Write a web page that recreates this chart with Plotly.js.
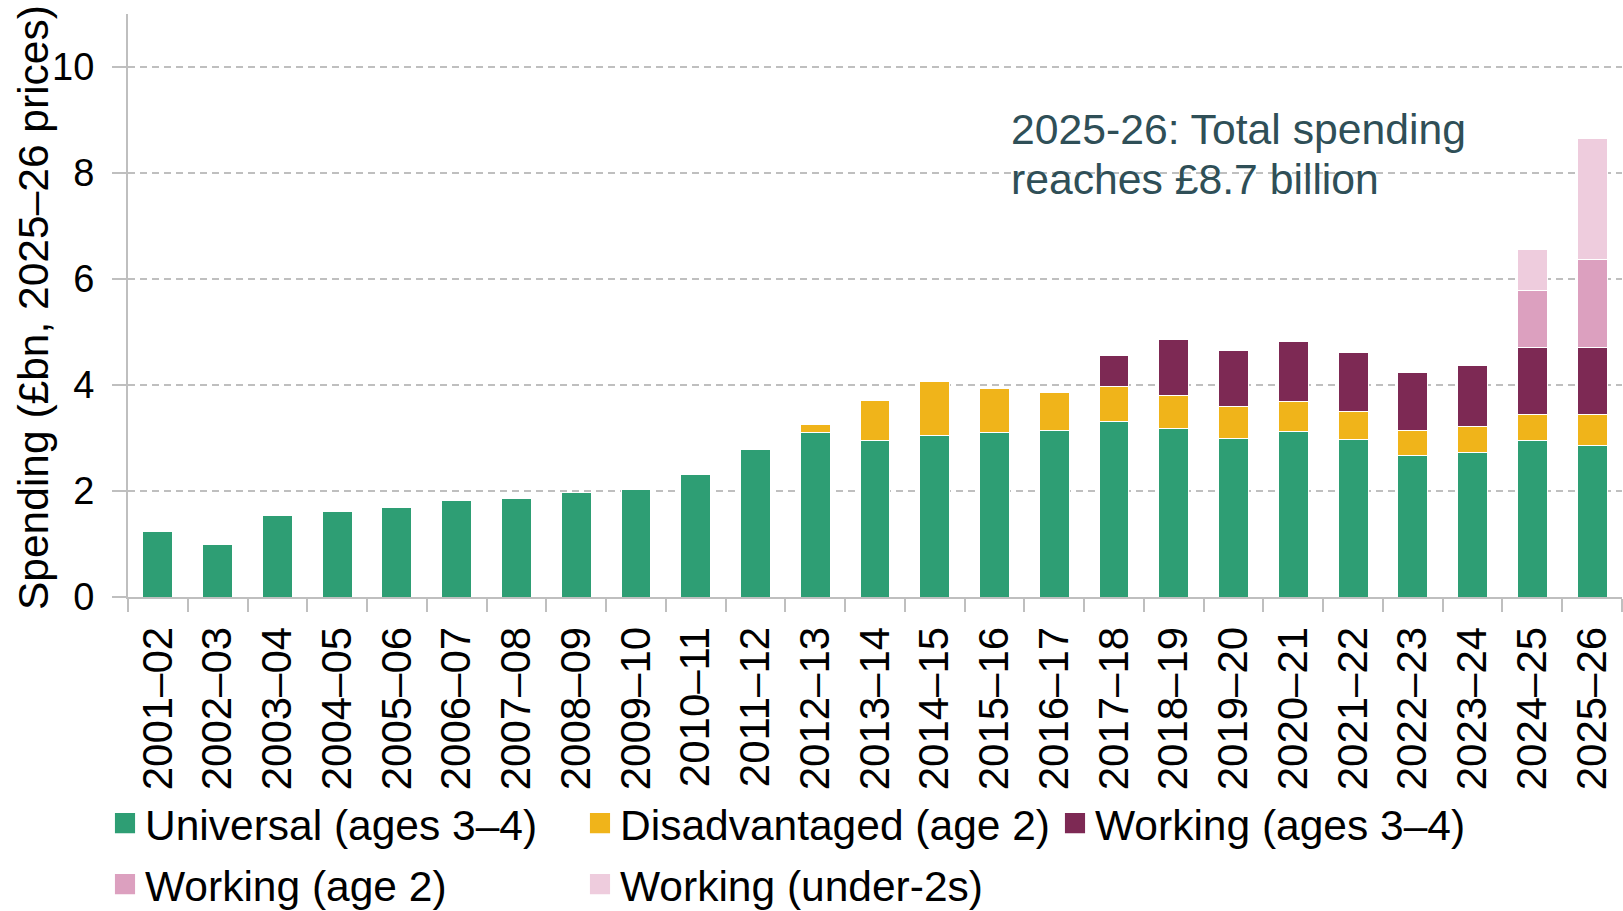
<!DOCTYPE html>
<html>
<head>
<meta charset="utf-8">
<script src="https://cdn.plot.ly/plotly-3.0.1.min.js"></script>
<style>
html, body { margin: 0; padding: 0; background: #ffffff; }
#chart { width: 1623px; height: 911px; }
</style>
</head>
<body>
<div id="chart"></div>
<script>
const years = ["2001–02","2002–03","2003–04","2004–05","2005–06","2006–07","2007–08","2008–09","2009–10","2010–11","2011–12","2012–13","2013–14","2014–15","2015–16","2016–17","2017–18","2018–19","2019–20","2020–21","2021–22","2022–23","2023–24","2024–25","2025–26"];

const universal = [1.24,1.00,1.53,1.62,1.68,1.82,1.85,1.97,2.03,2.31,2.79,3.10,2.96,3.04,3.10,3.15,3.32,3.17,2.99,3.13,2.98,2.67,2.73,2.95,2.86];
const disadvantaged = [null,null,null,null,null,null,null,null,null,null,null,0.16,0.74,1.03,0.83,0.71,0.66,0.64,0.60,0.56,0.52,0.47,0.49,0.49,0.58];
const working34 = [null,null,null,null,null,null,null,null,null,null,null,null,null,null,null,null,0.58,1.04,1.07,1.14,1.12,1.09,1.14,1.27,1.27];
const working2 = [null,null,null,null,null,null,null,null,null,null,null,null,null,null,null,null,null,null,null,null,null,null,null,1.08,1.65];
const workingUnder2 = [null,null,null,null,null,null,null,null,null,null,null,null,null,null,null,null,null,null,null,null,null,null,null,0.76,2.29];

const seriesNames = ["Universal (ages 3–4)","Disadvantaged (age 2)","Working (ages 3–4)","Working (age 2)","Working (under-2s)"];
const seriesColors = ["#2E9E74","#F0B41A","#7D2954","#DCA0BF","#EECCDD"];
const seriesValues = [universal, disadvantaged, working34, working2, workingUnder2];
const seriesLegend = ["legend","legend","legend","legend2","legend2"];

const yTickVals = [0, 2, 4, 6, 8, 10];

const FONT = "Liberation Sans, Arial, Helvetica, sans-serif";

const traces = seriesValues.map((vals, i) => ({
  type: "bar",
  name: seriesNames[i],
  x: years,
  y: vals,
  legend: seriesLegend[i],
  marker: { color: seriesColors[i], line: { color: "#ffffff", width: 1 } },
  hoverinfo: "x+y+name"
}));

const W = 1623, H = 911;
const mL = 128, mR = 1, mT = 14, mB = 314;
const plotW = W - mL - mR;
const plotH = H - mT - mB;
const px2paperX = p => (p - mL) / plotW;
const px2paperY = p => (H - mB - p) / plotH;

const legendCommon = {
  orientation: "h",
  x: px2paperX(105), xanchor: "left",
  yanchor: "top",
  traceorder: "normal",
  entrywidth: 430, entrywidthmode: "pixels",
  font: { family: FONT, size: 42.5, color: "#000000" },
  bgcolor: "rgba(0,0,0,0)"
};

const layout = {
  width: W, height: H,
  margin: { l: mL, r: mR, t: mT, b: mB, pad: 0, autoexpand: false },
  paper_bgcolor: "#ffffff",
  plot_bgcolor: "#ffffff",
  barmode: "stack",
  bargap: 0.5,
  font: { family: FONT, size: 42, color: "#000000" },
  showlegend: true,
  legend: Object.assign({}, legendCommon, { y: px2paperY(789) }),
  legend2: Object.assign({}, legendCommon, { y: px2paperY(850) }),
  xaxis: {
    type: "category",
    tickangle: -90,
    tickson: "boundaries",
    ticks: "outside", ticklen: 13, tickwidth: 2, tickcolor: "#BFBFBF",
    showline: true, linecolor: "#BFBFBF", linewidth: 2,
    showgrid: false, zeroline: false,
    tickfont: { family: FONT, size: 42, color: "#000000" },
    ticklabelstandoff: 11,
    automargin: false
  },
  yaxis: {
    range: [0, 11],
    tickvals: yTickVals,
    ticks: "outside", ticklen: 14, tickwidth: 2, tickcolor: "#BFBFBF",
    showline: true, linecolor: "#BFBFBF", linewidth: 2,
    showgrid: true, gridcolor: "#BFBFBF", gridwidth: 1.5, griddash: "7px,5px",
    zeroline: false,
    tickfont: { family: FONT, size: 38, color: "#000000" },
    ticklabelstandoff: 10,
    automargin: false
  },
  annotations: [
    {
      xref: "paper", yref: "paper",
      x: px2paperX(33), y: px2paperY(308),
      xanchor: "center", yanchor: "middle",
      textangle: -90,
      showarrow: false,
      text: "Spending (£bn, 2025–26 prices)",
      font: { family: FONT, size: 42.5, color: "#000000" }
    },
    {
      xref: "paper", yref: "y",
      x: px2paperX(1009), y: 8.83,
      xanchor: "left", yanchor: "middle",
      showarrow: false,
      text: "2025-26: Total spending",
      font: { family: FONT, size: 42.7, color: "#2F4F57" }
    },
    {
      xref: "paper", yref: "y",
      x: px2paperX(1009), y: 7.88,
      xanchor: "left", yanchor: "middle",
      showarrow: false,
      text: "reaches £8.7 billion",
      font: { family: FONT, size: 42.7, color: "#2F4F57" }
    }
  ]
};

Plotly.newPlot("chart", traces, layout, { displayModeBar: false, staticPlot: true }).then(gd => {
  gd.querySelectorAll(".legendpoints path").forEach(p => {
    const t = p.getAttribute("transform") || "";
    p.setAttribute("transform", t + " scale(1.83)");
  });
});
</script>
</body>
</html>
